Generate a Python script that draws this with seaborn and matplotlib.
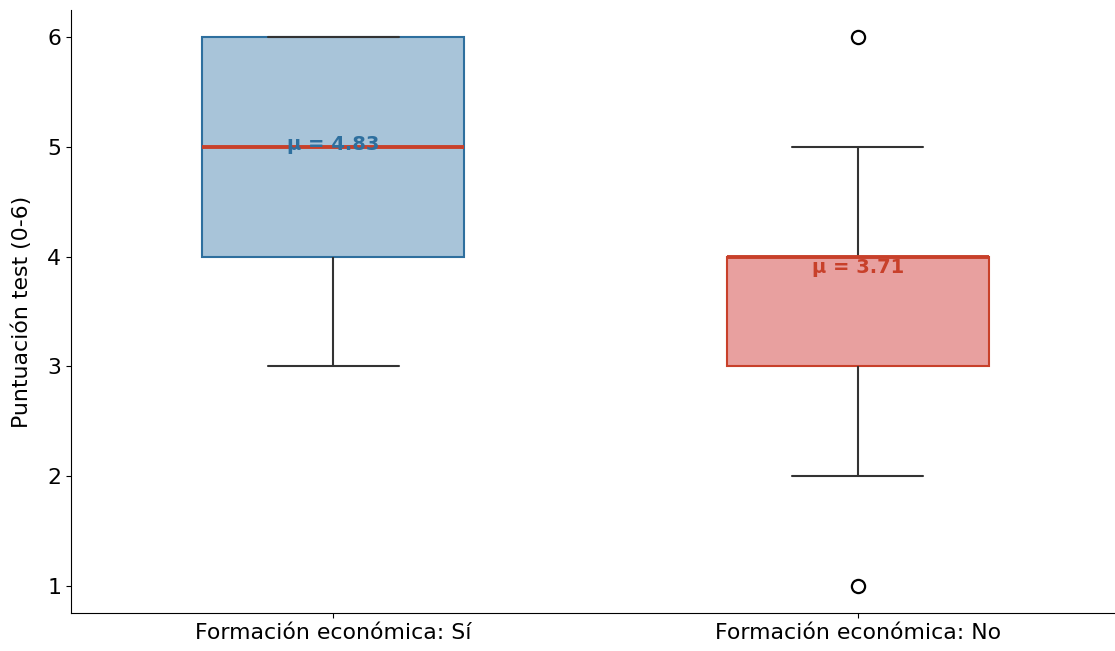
import matplotlib
matplotlib.use("Agg")
import matplotlib.pyplot as plt
import seaborn as sns
import numpy as np
import pandas as pd

categories = ["Formación económica: Sí", "Formación económica: No"]
scores_si = [3, 4, 4, 6, 6, 6]
scores_no = [1, 2, 3, 3, 3, 4, 4, 4, 4, 4, 4, 5, 5, 6]
y_label = "Puntuación test (0-6)"

face_colors = ["#a8c4d9", "#e8a09f"]
edge_colors = ["#2e6f9e", "#c8402a"]
median_color = "#c8402a"

df = pd.DataFrame({
    "grupo": [categories[0]] * len(scores_si) + [categories[1]] * len(scores_no),
    "score": scores_si + scores_no,
})

sns.set_style("ticks")
plt.rcParams['font.family'] = ['DejaVu Sans']
plt.rcParams['text.color'] = 'black'
plt.rcParams['axes.labelcolor'] = 'black'
plt.rcParams['xtick.color'] = 'black'
plt.rcParams['ytick.color'] = 'black'
plt.rcParams['axes.edgecolor'] = 'black'

fig = plt.figure(figsize=(11.15, 6.51), dpi=100)
ax = fig.add_axes([71/1115, 38/651, 1049/1115, 603/651])

sns.boxplot(data=df, x="grupo", y="score", order=categories, width=0.5, ax=ax,
            color="white", linecolor="#333333", linewidth=1.5,
            medianprops=dict(color=median_color, linewidth=2.8),
            flierprops=dict(marker="o", markerfacecolor="white", markeredgecolor="black",
                            markersize=9.5, markeredgewidth=1.6))

for patch, fc, ec in zip(ax.patches, face_colors, edge_colors):
    patch.set_facecolor(fc)
    patch.set_edgecolor(ec)
    patch.set_linewidth(1.5)

for i, vals in enumerate([scores_si, scores_no]):
    m = np.mean(vals)
    ax.text(i, m + 0.19, f"μ = {m:.2f}", ha="center", va="center", color=edge_colors[i],
            fontsize=14, fontweight="bold", zorder=5)

ax.set_xlabel("")
ax.set_ylabel(y_label, fontsize=15.8, labelpad=11)
ax.tick_params(axis="both", labelsize=15.8, colors="black")
sns.despine(ax=ax)
ax.set_yticks([1, 2, 3, 4, 5, 6])

fig.savefig("out.png", dpi=100)
